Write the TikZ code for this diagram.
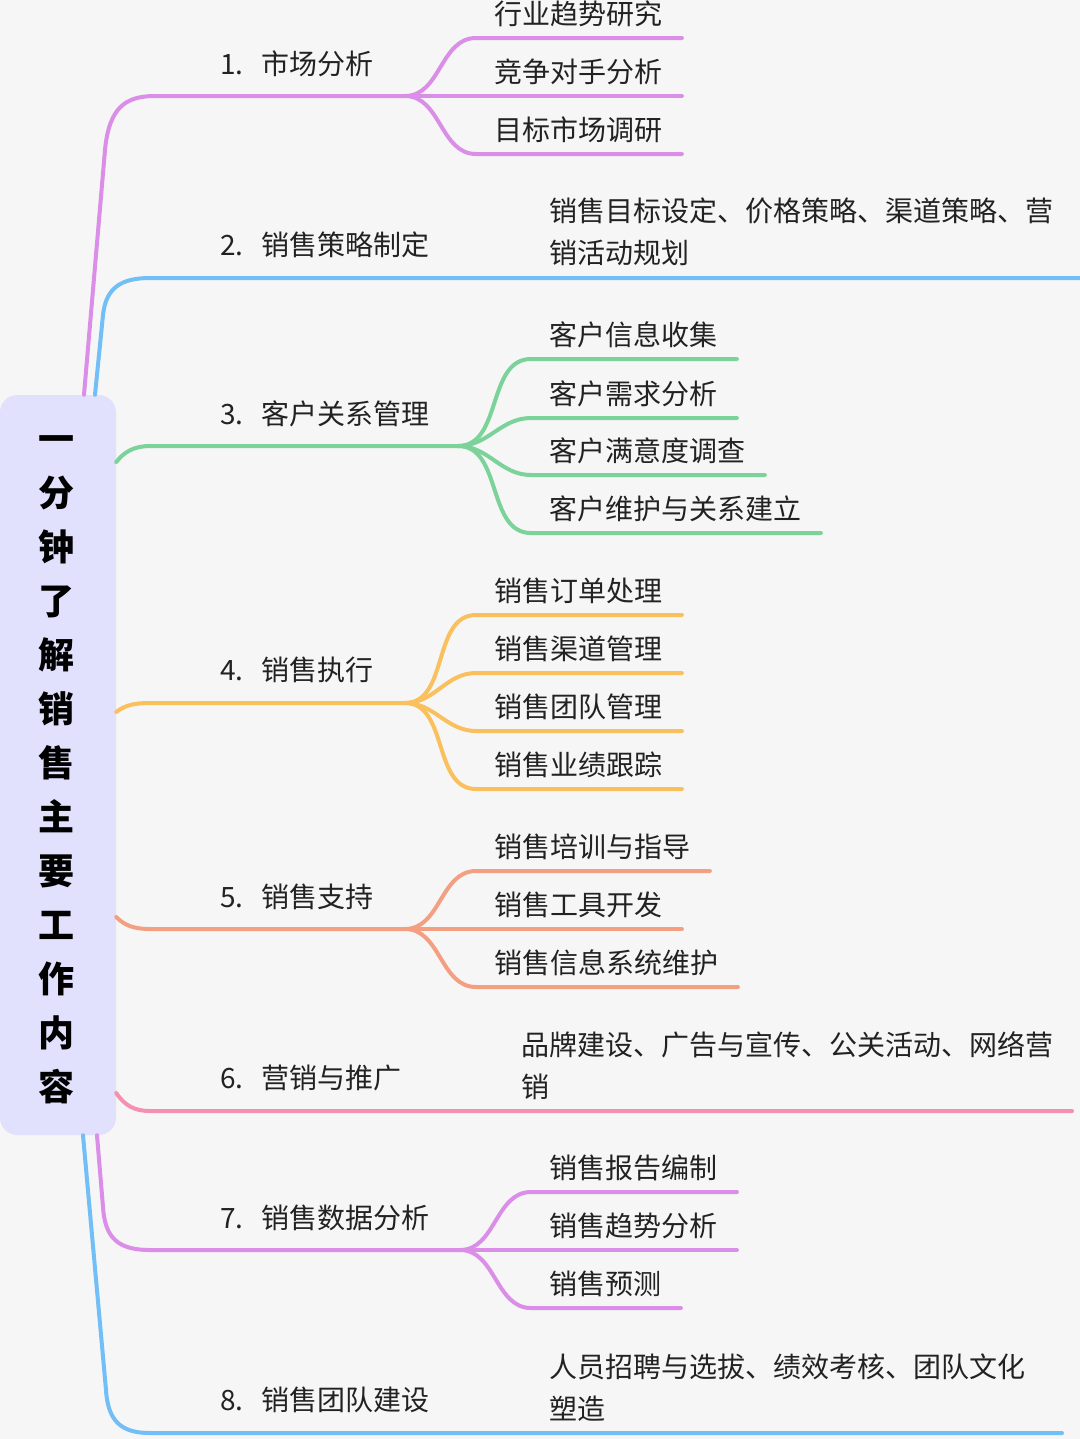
\documentclass[tikz,border=0pt]{standalone}
\usepackage{fontspec}
\setmainfont{Noto Sans CJK SC}
\usetikzlibrary{calc,positioning}
\definecolor{bggray}{HTML}{F6F6F6}
\definecolor{rootlav}{HTML}{E1E0FD}
\definecolor{mmviolet}{HTML}{DA8EE8}
\definecolor{mmsky}{HTML}{72BEF6}
\definecolor{mmmint}{HTML}{7BD39A}
\definecolor{mmamber}{HTML}{F9C05D}
\definecolor{mmsalmon}{HTML}{F39F82}
\definecolor{mmrose}{HTML}{F690B0}
\definecolor{inkgray}{HTML}{222222}
\newcommand\leaffont{\fontsize{21pt}{31.5pt}\selectfont}
\newcommand\rootfont{\fontsize{27pt}{40.5pt}\selectfont\bfseries}
\tikzset{
  % rot
  rootbox/.style={fill=rootlav,rounded corners=13pt,minimum width=87pt,
                  minimum height=555pt,inner sep=0pt},
  roottext/.style={inner sep=0pt,align=center,font=\rootfont,text=black},
  % grenar
  br/.style={line width=3pt,line cap=round},
  vio/.style={br,draw=mmviolet},
  sky/.style={br,draw=mmsky},
  mint/.style={br,draw=mmmint},
  amber/.style={br,draw=mmamber},
  salmon/.style={br,draw=mmsalmon},
  rose/.style={br,draw=mmrose},
  % text
  blabel/.style={anchor=west,inner sep=0pt,font=\leaffont,text=inkgray},
  leaf/.style={anchor=south west,inner xsep=14pt,inner ysep=0pt,text depth=10pt,
               font=\leaffont,text=inkgray},
  note/.style={anchor=west,inner sep=0pt,align=left,font=\leaffont,text=inkgray},
}
\begin{document}
\begin{tikzpicture}[x=0.75pt,y=-0.75pt]
\fill[bggray] (0,0) rectangle (1080,1439);
\useasboundingbox (0,0) rectangle (1080,1439);
\node[rootbox] (root) at (58,765) {};
\node[roottext] (title) at (56,770) {一\\分\\钟\\了\\解\\销\\售\\主\\要\\工\\作\\内\\容};
% 1
\coordinate (f1) at (405,96);
\draw[vio] (84,0 |- root.north) -- (105,150) .. controls (109,108) and (125,96) .. (155,96) -- (f1);
\node[blabel] (b1) at (220,64) {1.\hspace{0.65em}市场分析};
\node[leaf] (a1) at (476,38) {行业趋势研究};
\node[leaf] (a2) at (476,96) {竞争对手分析};
\node[leaf] (a3) at (476,154) {目标市场调研};
\draw[vio] (f1) to[out=0,in=180] (a1.south west) -- (a1.south east);
\draw[vio] (f1) -- (a2.south west) -- (a2.south east);
\draw[vio] (f1) to[out=0,in=180] (a3.south west) -- (a3.south east);
% 2
\coordinate (e2) at (1080,278);
\draw[sky] (95,0 |- root.north) -- (103,315) .. controls (106,287) and (122,278) .. (150,278) -- (e2);
\node[blabel] (b2) at (220,245) {2.\hspace{0.65em}销售策略制定};
\node[note] (n2) at (549,232) {销售目标设定、价格策略、渠道策略、营\\销活动规划};
% 3
\coordinate (f3) at (458,446);
\draw[mint] (root.east |- 0,462) .. controls (124,452) and (134,446) .. (150,446) -- (f3);
\node[blabel] (b3) at (220,414) {3.\hspace{0.65em}客户关系管理};
\node[leaf] (c1) at (531,359) {客户信息收集};
\node[leaf] (c2) at (531,418) {客户需求分析};
\node[leaf] (c3) at (531,475) {客户满意度调查};
\node[leaf] (c4) at (531,533) {客户维护与关系建立};
\draw[mint] (f3) to[out=0,in=180] (c1.south west) -- (c1.south east);
\draw[mint] (f3) to[out=0,in=180] (c2.south west) -- (c2.south east);
\draw[mint] (f3) to[out=0,in=180] (c3.south west) -- (c3.south east);
\draw[mint] (f3) to[out=0,in=180] (c4.south west) -- (c4.south east);
% 4
\coordinate (f4) at (405,703);
\draw[amber] (root.east |- 0,712) .. controls (125,705) and (135,703) .. (150,703) -- (f4);
\node[blabel] (b4) at (220,670) {4.\hspace{0.65em}销售执行};
\node[leaf] (d1) at (476,615) {销售订单处理};
\node[leaf] (d2) at (476,673) {销售渠道管理};
\node[leaf] (d3) at (476,731) {销售团队管理};
\node[leaf] (d4) at (476,789) {销售业绩跟踪};
\draw[amber] (f4) to[out=0,in=180] (d1.south west) -- (d1.south east);
\draw[amber] (f4) to[out=0,in=180] (d2.south west) -- (d2.south east);
\draw[amber] (f4) to[out=0,in=180] (d3.south west) -- (d3.south east);
\draw[amber] (f4) to[out=0,in=180] (d4.south west) -- (d4.south east);
% 5
\coordinate (f5) at (405,929);
\draw[salmon] (root.east |- 0,917) .. controls (125,926) and (135,929) .. (150,929) -- (f5);
\node[blabel] (b5) at (220,897) {5.\hspace{0.65em}销售支持};
\node[leaf] (s1) at (476,871) {销售培训与指导};
\node[leaf] (s2) at (476,929) {销售工具开发};
\node[leaf] (s3) at (476,987) {销售信息系统维护};
\draw[salmon] (f5) to[out=0,in=180] (s1.south west) -- (s1.south east);
\draw[salmon] (f5) -- (s2.south west) -- (s2.south east);
\draw[salmon] (f5) to[out=0,in=180] (s3.south west) -- (s3.south east);
% 6
\coordinate (e6) at (1072,1111);
\draw[rose] (root.east |- 0,1093) .. controls (125,1106) and (135,1111) .. (150,1111) -- (e6);
\node[blabel] (b6) at (220,1078) {6.\hspace{0.65em}营销与推广};
\node[note] (n6) at (521,1066) {品牌建设、广告与宣传、公关活动、网络营\\销};
% 7
\coordinate (f7) at (460,1250);
\draw[vio] (97,0 |- root.south) -- (103,1207) .. controls (105,1238) and (118,1250) .. (150,1250) -- (f7);
\node[blabel] (b7) at (220,1218) {7.\hspace{0.65em}销售数据分析};
\node[leaf] (p1) at (531,1192) {销售报告编制};
\node[leaf] (p2) at (531,1250) {销售趋势分析};
\node[leaf] (p3) at (531,1308) {销售预测};
\draw[vio] (f7) to[out=0,in=180] (p1.south west) -- (p1.south east);
\draw[vio] (f7) -- (p2.south west) -- (p2.south east);
\draw[vio] (f7) to[out=0,in=180] (p3.south west) -- (p3.south east);
% 8
\coordinate (e8) at (1062,1433);
\draw[sky] (83,0 |- root.south) -- (106,1390) .. controls (108,1422) and (122,1433) .. (150,1433) -- (e8);
\node[blabel] (b8) at (220,1400) {8.\hspace{0.65em}销售团队建设};
\node[note] (n8) at (549,1388) {人员招聘与选拔、绩效考核、团队文化\\塑造};
\end{tikzpicture}
\end{document}
